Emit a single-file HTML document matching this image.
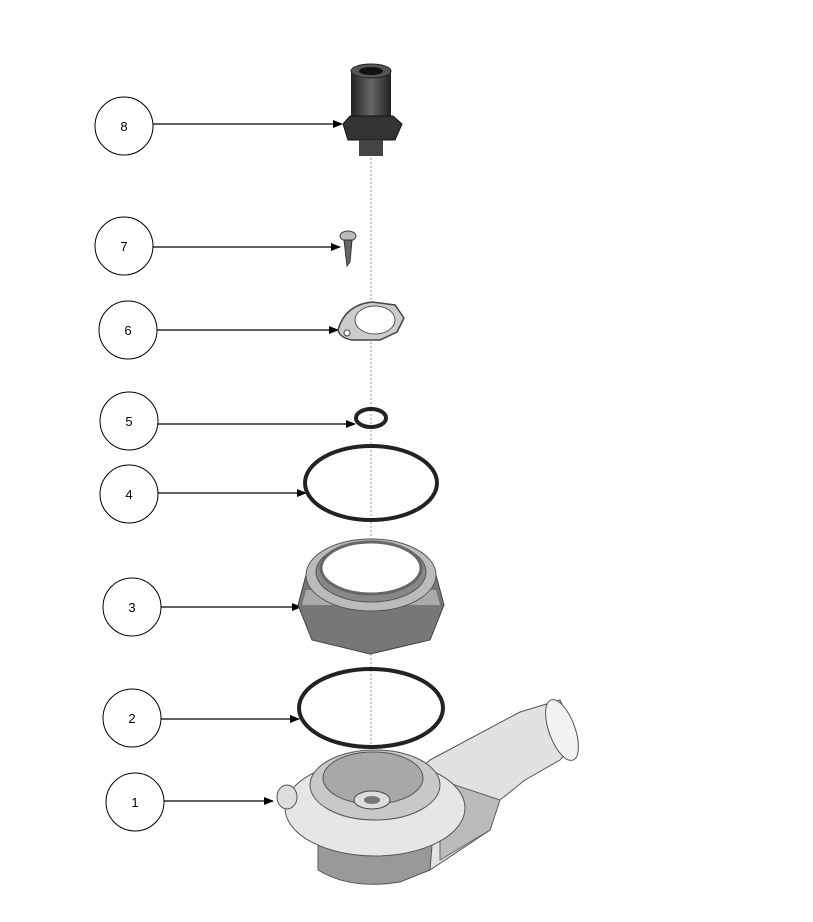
<!DOCTYPE html>
<html><head><style>
html,body{margin:0;padding:0;background:#fff;}
svg{display:block;}
text{font-family:"Liberation Sans",Arial,sans-serif;font-size:13px;fill:#000;}
</style></head><body>
<svg width="813" height="922" viewBox="0 0 813 922" xmlns="http://www.w3.org/2000/svg">
<defs>
<marker id="a" markerWidth="10" markerHeight="8" refX="9" refY="4" orient="auto" markerUnits="userSpaceOnUse">
<path d="M0,0 L10,4 L0,8 z" fill="#000"/></marker>
<linearGradient id="d" x1="0" x2="1"><stop offset="0" stop-color="#222"/><stop offset="0.5" stop-color="#666"/><stop offset="1" stop-color="#222"/></linearGradient>
</defs>
<line x1="371" y1="150" x2="371" y2="800" stroke="#999" stroke-dasharray="2,2" stroke-width="1"/>

<g fill="#fff" stroke="#000" stroke-width="1">
<circle cx="124" cy="126" r="29"/><circle cx="124" cy="246" r="29"/>
<circle cx="128" cy="330" r="29"/><circle cx="129" cy="421" r="29"/>
<circle cx="129" cy="494" r="29"/><circle cx="132" cy="607" r="29"/>
<circle cx="132" cy="718" r="29"/><circle cx="135" cy="802" r="29"/>
</g>
<g text-anchor="middle">
<text x="124" y="131">8</text><text x="124" y="251">7</text>
<text x="128" y="335">6</text><text x="129" y="426">5</text>
<text x="129" y="499">4</text><text x="132" y="612">3</text>
<text x="132" y="723">2</text><text x="135" y="807">1</text>
</g>
<g stroke="#000" stroke-width="1.2" marker-end="url(#a)">
<line x1="153" y1="124" x2="342" y2="124"/>
<line x1="153" y1="247" x2="340" y2="247"/>
<line x1="157" y1="330" x2="338" y2="330"/>
<line x1="158" y1="424" x2="355" y2="424"/>
<line x1="158" y1="493" x2="306" y2="493"/>
<line x1="161" y1="607" x2="301" y2="607"/>
<line x1="161" y1="719" x2="299" y2="719"/>
<line x1="164" y1="801" x2="273" y2="801"/>
</g>

<rect x="351" y="70" width="40" height="52" fill="url(#d)"/>
<ellipse cx="371" cy="71" rx="20" ry="7" fill="#555" stroke="#222"/>
<ellipse cx="371" cy="71" rx="12" ry="4" fill="#111"/>
<path d="M343,124 L350,116 L393,116 L402,124 L395,140 L348,140 Z" fill="#333" stroke="#111"/>
<rect x="359" y="140" width="24" height="16" fill="#444"/>

<ellipse cx="348" cy="236" rx="8" ry="5" fill="#bbb" stroke="#444"/>
<path d="M344,240 L352,240 L350,262 L347,266 Z" fill="#666" stroke="#333"/>

<path d="M338,330 Q345,305 372,302 L395,305 L404,318 L397,332 L380,340 L352,340 Q340,338 338,330 Z" fill="#ccc" stroke="#444" stroke-width="1.5"/>
<ellipse cx="375" cy="320" rx="20" ry="14" fill="#fff" stroke="#555"/>
<circle cx="347" cy="333" r="3" fill="#fff" stroke="#444"/>

<ellipse cx="371" cy="418" rx="15" ry="9" fill="none" stroke="#222" stroke-width="4"/>
<ellipse cx="371" cy="483" rx="66" ry="37" fill="none" stroke="#222" stroke-width="4"/>

<path d="M298,605 L306,575 L436,575 L444,605 L430,640 L370,654 L312,640 Z" fill="#777" stroke="#444"/>
<path d="M306,590 L436,590 L440,605 L302,605 Z" fill="#aaa"/>
<ellipse cx="371" cy="575" rx="65" ry="36" fill="#bbb" stroke="#555"/>
<ellipse cx="371" cy="572" rx="55" ry="30" fill="#888" stroke="#555"/>
<ellipse cx="371" cy="568" rx="50" ry="26" fill="#fff" stroke="#666" stroke-width="3"/>

<ellipse cx="371" cy="708" rx="72" ry="39" fill="none" stroke="#222" stroke-width="4"/>

<path d="M430,760 L520,712 L560,700 L578,740 L560,760 L525,780 L500,800 L490,830 L430,870 L400,880 L340,880 L318,860 Z" fill="#e2e2e2" stroke="#555"/>
<path d="M440,780 L500,800 L490,830 L440,860 Z" fill="#bbb" stroke="#666"/>
<ellipse cx="562" cy="730" rx="13" ry="32" transform="rotate(-20 562 730)" fill="#f2f2f2" stroke="#555"/>
<path d="M318,845 L318,870 Q350,890 400,882 L430,870 L432,845 Z" fill="#999" stroke="#555"/>
<ellipse cx="375" cy="808" rx="90" ry="48" fill="#e6e6e6" stroke="#555"/>
<ellipse cx="375" cy="785" rx="65" ry="35" fill="#c8c8c8" stroke="#555"/>
<ellipse cx="373" cy="778" rx="50" ry="26" fill="#a8a8a8" stroke="#555"/>
<ellipse cx="372" cy="800" rx="18" ry="9" fill="#ddd" stroke="#444"/>
<ellipse cx="372" cy="800" rx="8" ry="4" fill="#777"/>
<ellipse cx="287" cy="797" rx="10" ry="12" fill="#ddd" stroke="#555"/>
</svg>
</body></html>
